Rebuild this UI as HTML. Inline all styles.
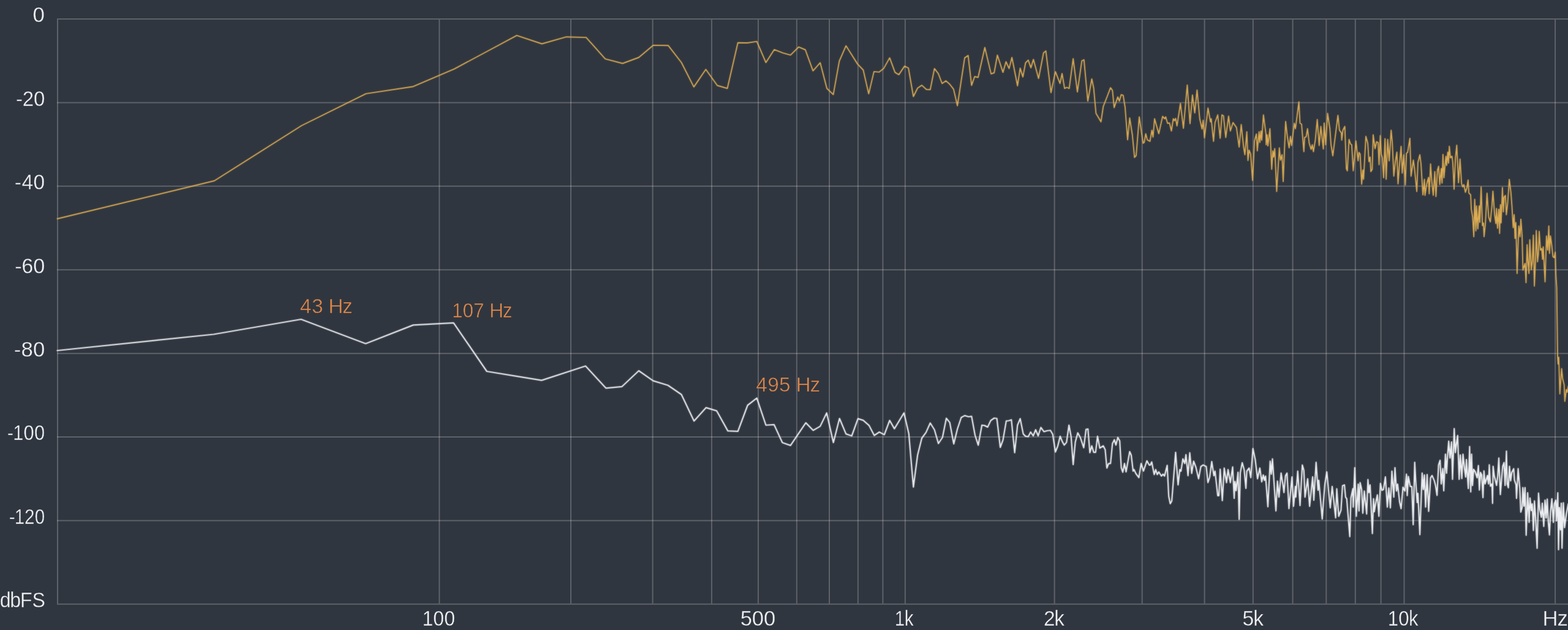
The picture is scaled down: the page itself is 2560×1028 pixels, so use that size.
<!DOCTYPE html>
<html lang="en">
<head>
<meta charset="utf-8">
<title>Spectrum analyzer</title>
<style>
html,body{margin:0;padding:0;background:#30363f;}
body{width:2560px;height:1028px;overflow:hidden;position:relative;font-family:"Liberation Sans",sans-serif;}
svg{position:absolute;left:0;top:0;display:block;}
text{font-family:"Liberation Sans",sans-serif;stroke:#30363f;stroke-width:0.45;white-space:pre;}
.ax{fill:#f0f2f5;font-size:34.8px;stroke-width:0.35;}
.pk{fill:#e0884a;font-size:33.4px;stroke-width:0.55;}
.g{stroke:rgba(255,255,255,0.225);stroke-width:2;fill:none;}
.cy{stroke:#dcac54;stroke-width:1.9;fill:none;stroke-linejoin:round;stroke-linecap:round;}
.cw{stroke:#eceef1;stroke-width:2.25;fill:none;stroke-linejoin:round;stroke-linecap:round;}
</style>
</head>
<body>
<svg width="2560" height="1028" viewBox="0 0 2560 1028">
<rect x="0" y="0" width="2560" height="1028" fill="#30363f"/>
<defs><filter id="soft" color-interpolation-filters="sRGB" x="-2%" y="-2%" width="104%" height="104%" filterUnits="objectBoundingBox"><feGaussianBlur stdDeviation="0.8" result="b"/><feComposite in="SourceGraphic" in2="b" operator="arithmetic" k1="0" k2="0.6" k3="0.4" k4="0"/></filter></defs>
<g class="g">
<line x1="93" y1="31.05" x2="2560" y2="31.05"/>
<line x1="93" y1="167.45" x2="2560" y2="167.45"/>
<line x1="93" y1="303.85" x2="2560" y2="303.85"/>
<line x1="93" y1="440.25" x2="2560" y2="440.25"/>
<line x1="93" y1="576.65" x2="2560" y2="576.65"/>
<line x1="93" y1="713.05" x2="2560" y2="713.05"/>
<line x1="93" y1="849.45" x2="2560" y2="849.45"/>
<line x1="93" y1="985.85" x2="2560" y2="985.85"/>
<line x1="94" y1="32.05" x2="94" y2="984.85"/>
<line x1="717.3" y1="32.05" x2="717.3" y2="984.85"/>
<line x1="932" y1="32.05" x2="932" y2="984.85"/>
<line x1="1065.6" y1="32.05" x2="1065.6" y2="984.85"/>
<line x1="1161.9" y1="32.05" x2="1161.9" y2="984.85"/>
<line x1="1237.9" y1="32.05" x2="1237.9" y2="984.85"/>
<line x1="1300.8" y1="32.05" x2="1300.8" y2="984.85"/>
<line x1="1354" y1="32.05" x2="1354" y2="984.85"/>
<line x1="1400.8" y1="32.05" x2="1400.8" y2="984.85"/>
<line x1="1441.4" y1="32.05" x2="1441.4" y2="984.85"/>
<line x1="1477.8" y1="32.05" x2="1477.8" y2="984.85"/>
<line x1="1721.6" y1="32.05" x2="1721.6" y2="984.85"/>
<line x1="1864.7" y1="32.05" x2="1864.7" y2="984.85"/>
<line x1="1966.6" y1="32.05" x2="1966.6" y2="984.85"/>
<line x1="2045.8" y1="32.05" x2="2045.8" y2="984.85"/>
<line x1="2110.6" y1="32.05" x2="2110.6" y2="984.85"/>
<line x1="2165.3" y1="32.05" x2="2165.3" y2="984.85"/>
<line x1="2212.8" y1="32.05" x2="2212.8" y2="984.85"/>
<line x1="2254.6" y1="32.05" x2="2254.6" y2="984.85"/>
<line x1="2292.5" y1="32.05" x2="2292.5" y2="984.85"/>
<line x1="2539.1" y1="32.05" x2="2539.1" y2="984.85"/>
</g>
<g filter="url(#soft)">
<polyline class="cy" points="93.5,357 350,295 492.3,205 597.6,152.9 674.7,141.2 742,112.3 795,84 843.7,57.8 884.7,71.5 924.7,60.2 957,61.1 988.2,96.1 1016.5,103.5 1042.9,93.75 1066.4,73.9 1090.9,74.2 1112.5,102.03 1132.81,141.88 1152.34,113.28 1171.09,139.53 1187.5,144.22 1204.69,69.69 1220.31,70 1235.62,67.66 1250.47,102.03 1264.06,80.94 1278.12,86.41 1290.62,89.84 1303.91,76.72 1314.84,81.25 1327.34,115.62 1339.06,102.34 1350,144.22 1360.47,154.38 1370.31,99.69 1381.25,74.69 1390.62,89.53 1400,104.38 1409.38,114.22 1418.28,153.12 1426.88,116.88 1435.16,117.66 1442.97,111.41 1452.5,94.38 1461.25,118.12 1467.5,121.88 1476.88,107.88 1483.12,111 1491.25,157.5 1498.12,143.75 1505,139.12 1512.5,146 1518.75,146.25 1525.62,111.88 1531.88,120 1538.12,136.25 1544.38,131.88 1550.62,137.5 1556.88,145.62 1563.12,172.5 1575,94.38 1580.62,90.62 1586.25,139.38 1591.25,125 1596.88,126.25 1607.88,77.5 1618.12,120.62 1623.12,118.75 1628.38,90 1637.5,118.12 1642.5,100.62 1647.5,111.88 1652.12,93.75 1661.25,140 1665.62,111.25 1670,125.62 1674.38,102.5 1678.75,98.12 1683.12,110.62 1687.25,96.88 1695.62,128.12 1703.75,86.25 1707.5,83.12 1715.88,151.25 1723.12,116.88 1730.62,136.25 1734,120 1738.12,144.38 1741.88,142.5 1745.62,144.38 1752.12,95.62 1759,150 1766.25,99.38 1769.75,97.5 1776,165 1782.5,128.75 1785.62,143.75 1789.38,185 1793.12,191.25 1797.5,198.75 1801.25,173.75 1808.12,156.25 1813.12,143.12 1816.25,147.5 1819,175.62 1825,158.12 1827.5,165 1830.62,154.38 1833.75,155.62 1836.88,175 1841,228.12 1844.38,192.5 1848.75,220 1852.25,256.88 1855,253.75 1860,190.62 1866.25,233.75 1868.12,232.5 1870.62,218.12 1873.12,228.12 1877.5,230.62 1880.62,212.5 1882.5,223.75 1885,193.75 1891.88,218.12 1898.12,190 1901.5,193.75 1903.12,190.62 1906.25,201.25 1909.38,200.62 1912.5,213.75 1915.62,193.75 1917.5,196.88 1919.38,193.12 1921.62,205.62 1927.25,168.75 1932.12,209.38 1938.38,138.75 1942.88,201.88 1946.88,155 1950.62,184.38 1954.38,146.88 1958.75,193.75 1962.5,210.62 1964.38,196.25 1966.5,225 1972.25,176.25 1976.25,198.75 1977.5,193.75 1981.25,230.62 1983.75,200 1988.12,187.5 1992.12,225.62 1995,187.5 1997.5,188.75 2001.25,224.38 2005.88,189.38 2008.75,213.75 2013.12,200 2018.75,208.12 2023.12,240 2026.5,203.12 2030.38,240 2032.5,252.5 2035.62,215 2037.5,261.88 2039.38,245 2041.88,251.25 2045,294.38 2048.12,230 2051.25,218.75 2052.75,246.25 2055.62,215 2056.88,232.5 2058.75,213.75 2060,228.75 2062.75,187.5 2066.88,218.75 2067.25,236.25 2068.75,220 2070,238.12 2073.38,210 2076.25,276.25 2078.12,246.25 2079.38,256.25 2081.25,242.5 2084.38,312.5 2088.75,241.25 2090.62,261.25 2093.12,252.5 2095,296.25 2099,198.12 2101.88,223.75 2104.75,241.25 2106.88,222.5 2108.75,237.5 2113.12,201.25 2115,210 2120.62,166.25 2122.5,201.25 2125,202.5 2128.75,247.5 2130,224.38 2132.5,223.12 2134.75,210 2137.5,233.75 2140.62,243.75 2142.5,236.25 2144.38,247.5 2147.5,228.12 2150.62,195 2153.75,237.5 2156.5,206.25 2158.75,227.5 2160.62,243.12 2161.88,200.62 2164.38,236.25 2167.5,185 2171.25,210 2173.12,236.25 2176,254.38 2184.38,188.12 2186.88,212.5 2190,216.88 2190.62,228.75 2192.5,212.5 2195.62,206.25 2198.12,275 2199.75,278.75 2202.5,227.5 2205,235 2206.88,236.25 2209.38,278.75 2213.75,230 2217.25,262.5 2218.75,248.75 2220.62,251.25 2223.12,300.62 2225,277.5 2226.25,292.5 2230,222.5 2233.12,233.75 2235,263.75 2236.88,256.25 2238.12,280 2240.38,276.25 2241.88,220 2245,242.5 2247.5,231.25 2250,232.5 2251.5,268.75 2253.5,221.25 2255,251.25 2256.88,257.5 2259,290 2261.25,226.25 2263.12,292.5 2265.62,227.5 2268.12,262.5 2271.25,212.5 2273.12,232.5 2275.62,287.5 2278.12,263.75 2280.62,248.12 2282.5,300 2285,267.5 2287.5,238.75 2289.38,282.5 2291.88,252.5 2294.38,301.88 2296.25,250 2298.12,248.75 2301.88,225.62 2303.75,287.5 2307.5,261.25 2309.38,275 2313.12,312.5 2315,265 2318.12,252.5 2320,267.5 2323.12,318.12 2325.62,292.5 2326.5,318.75 2329.38,300 2332.25,289.38 2333.38,316.25 2335.62,267.5 2337.5,295 2340,318.75 2342.5,280 2344.38,320.62 2346.88,277.5 2348.75,271.25 2350.62,301.25 2353.12,275 2354.38,298.75 2355.88,251.88 2357.5,290 2360.62,255 2361.88,270 2363.75,248.12 2365,266.25 2366.25,238.75 2368.12,257.5 2370.62,255 2371.88,265 2374,308.75 2376.25,257.5 2378.38,236.88 2381.25,298.12 2383.75,259.38 2386.25,300 2388.12,305 2390,301.25 2392.5,313.75 2395,306.25 2396.88,293.75 2398.12,315 2401.07,317.81 2402.14,341.34 2404.28,354.17 2406.2,386.26 2407.7,325.29 2409.63,376.63 2410.7,335.99 2412.83,373.42 2414.97,335.99 2416.04,362.73 2418.18,304.97 2420.32,368.07 2421.93,363.8 2422.99,386.26 2425.13,364.87 2427.81,315.13 2430.48,354.17 2433.16,362.19 2435.83,335.99 2437.43,311.93 2440.11,349.89 2442.25,364.87 2443.32,340.27 2444.92,372.35 2447.06,341.34 2448.34,380.91 2449.73,333.85 2450.8,363.8 2452.94,306.04 2454.55,345.61 2455.61,322.09 2457.75,318.88 2459.36,350.43 2461.5,331.71 2464.17,292.67 2466.84,314.6 2468.45,335.99 2470.5,371.34 2472.13,350.22 2473.49,389.05 2474.86,363.16 2476.9,446.27 2479.62,368.61 2481.67,386.32 2483.03,357.71 2485.07,384.96 2486.44,440.82 2488.48,434.01 2489.84,429.92 2491.48,461.25 2493.25,399.26 2494.61,427.19 2496.25,446.27 2497.61,391.09 2500.06,440.14 2501.69,427.19 2503.47,383.6 2505.1,466.7 2506.87,427.19 2508.23,376.1 2510.28,427.19 2511.64,414.93 2513,377.47 2515.05,408.12 2517.09,405.4 2518.45,423.11 2519.54,402.67 2522.54,459.89 2524.86,384.96 2526.9,408.12 2528.67,368.61 2529.76,413.57 2531.4,384.96 2533.44,399.95 2535.48,419.02 2537.53,420.38 2539.16,411.53 2540.25,448.99 2541.6,470 2543,581 2543.8,594 2544.9,583 2546.7,642.8 2549.6,601.4 2551.3,618 2553.7,627.7 2554.8,655 2557.2,635.8 2558.6,640 2560.5,630"/>
<polyline class="cw" points="93.5,572 349,545.5 491.5,521 597,560.7 674.7,530.4 740.5,526.9 794.8,606 843,613.8 884.3,620.6 956,597.2 989.2,633.3 1015.5,630.8 1042.9,605 1066.4,621.4 1090.6,628.75 1112.5,643.75 1133.12,687.03 1152.66,665.16 1170,670.31 1188.28,703.12 1204.69,703.91 1220.62,661.25 1235.62,649.53 1250.47,693.75 1263.75,692.81 1277.34,722.19 1290.62,726.88 1303.12,708.44 1315.62,689.84 1327.66,702.19 1339.06,695.62 1349.69,673.75 1360.62,722.19 1370.62,682.81 1381.25,708.12 1390.62,711.25 1400.78,683.12 1409.38,685.94 1418.75,694.06 1427.34,710.47 1435.62,705 1443.75,709.38 1452.5,686 1460.25,699.62 1475.88,673.75 1483.75,707.5 1491.25,794.75 1498.12,742.5 1505,715 1511.88,705.62 1518.75,690.25 1525.62,701.25 1532.12,723.75 1538.75,713.75 1545,682.5 1550.62,689.38 1557.12,724.38 1563.12,700 1569.38,681.25 1575,678.12 1581.25,680 1586.25,679.38 1591.88,710 1597.12,726.5 1603.12,693.75 1607.5,694.38 1612.5,696.88 1617.5,686.25 1623.12,682.25 1627.5,682.75 1633.12,730 1637.5,718.12 1642.88,686.88 1646.88,686.5 1651.25,685 1656.62,738.75 1661.25,693.75 1665.62,683.12 1670.62,708.12 1674.38,711.88 1678.75,712.5 1682.75,705 1686.88,711.25 1690.88,701.25 1695,711.25 1699.38,697.5 1704.38,704.38 1710,702.75 1715,702.25 1718.75,708.75 1723.12,737.5 1726.88,728.12 1730.88,711.88 1734.38,720.62 1737.5,726.25 1741.25,721.88 1745.25,693.75 1748.75,712.5 1752.12,758.12 1755.62,721.25 1759.62,706.25 1763.75,713.75 1769.38,730.62 1773.12,700.62 1776.25,700 1779.38,738.75 1782.5,727.5 1785.62,738.12 1788.75,738.12 1791.88,711.88 1795.62,731.25 1801.25,727.5 1804.38,733.75 1807.12,763.75 1810,756.25 1813.12,756.25 1816.25,723.75 1819.38,717.5 1821.88,726.25 1825,713.75 1828.12,719.38 1830.62,763.12 1833.12,770.62 1835.88,756.25 1838.5,770 1844.38,736.88 1846.88,742.5 1850,768.75 1851.5,766.25 1854.38,772.5 1859.38,779.38 1863.12,756.25 1866.88,768.75 1872.5,751.88 1876.25,758.75 1878.12,758.75 1880.38,753.75 1884.38,774.38 1886.88,766.25 1889.38,774.38 1891.88,770 1896.25,776.88 1898.75,773.75 1901.25,776.88 1905.62,759.38 1908.12,810 1910.62,821.88 1913.12,817.5 1919.38,738.12 1923.38,791.25 1926.25,766.25 1928.12,768.75 1931.25,748.75 1934.38,756.25 1936.25,741.88 1939.62,776.25 1942.5,738.75 1945.62,772.5 1948.75,752.5 1952.5,762.5 1956.88,781.25 1960.62,761.25 1964.38,758.75 1969.38,761.25 1972.12,787.5 1975,778.75 1978.38,753.12 1981.88,776.25 1983.75,768.75 1988.12,808.75 1990,808.75 1992.12,765.62 1995.62,816.88 1998.75,763.75 2002.5,787.5 2005,766.25 2008.75,787.5 2012.5,761.88 2015,813.12 2016.25,785.62 2018.12,800.62 2021.25,770.62 2023.12,847.5 2025,771.25 2028.12,755 2031.25,766.25 2034.12,796.88 2035.62,768.75 2039.38,763.75 2042.12,779.38 2045.62,731.88 2049.38,750 2053.12,781.25 2055,772.5 2056.88,763.75 2060,786.25 2062.5,775 2064.38,783.75 2066.25,776.88 2070,826.88 2073.75,752.5 2075.62,773.75 2077.5,748.75 2083.12,833.75 2085.62,785 2088.12,811.25 2091.62,771.88 2095,793.75 2096.25,803.75 2098.75,776.25 2101.25,771.88 2104.38,830 2109.38,778.12 2111.88,826.25 2115,793.75 2115.62,811.25 2118.75,768.75 2122.5,825 2126.25,758.75 2128.75,767.5 2130.62,811.25 2135,781.25 2138.12,826.25 2143.12,778.12 2145,816.25 2148.75,754.38 2151.88,800 2153.12,783.75 2156.88,826.25 2158.75,846.88 2160.62,820 2163.12,789.38 2166.25,770 2168.75,797.5 2171.88,828.75 2175,793.75 2177.5,816.25 2179.38,833.75 2180.62,845 2182.5,797.5 2185.62,842.5 2189.38,832.5 2191.88,792.5 2195,791.25 2196.88,811.25 2198.75,813.75 2201.25,845 2203.75,875.62 2205.62,812.5 2208.75,797.5 2209.38,827.5 2211.88,763.12 2214.38,842.5 2217.5,790 2218.75,833.75 2220.62,787.5 2223.12,798.75 2225,837.5 2227.5,801.25 2231.25,838.75 2233.38,782.5 2235,803.75 2236.88,791.25 2240.62,870.62 2242.5,813.75 2243.75,835 2246.88,816.25 2248.75,807.5 2251.25,842.5 2253.75,788.75 2256.25,800 2258.75,798.75 2261.88,778.12 2265,827.5 2267.5,796.25 2270,828.75 2272.5,768.75 2275.62,811.25 2277.5,763.12 2280,801.25 2281.88,790 2285,818.75 2287.5,830 2290.62,795 2293.75,801.25 2296.25,773.75 2297.5,808.75 2299.38,777.5 2302.5,793.75 2305,793.75 2307.25,856.25 2309.75,754.38 2311.25,782.5 2313.75,820 2315,805 2318.12,872.5 2321.88,771.88 2323.75,798.75 2325.62,775 2327.5,827.5 2330,774.38 2332.49,834.46 2335.6,779.66 2338.09,775.93 2341.83,784.65 2343.7,792.12 2346.19,808.31 2348.68,758.49 2351.17,751.02 2353.04,789.63 2355.53,764.72 2357.15,800.83 2359.89,741.06 2361.76,772.19 2363.62,739.81 2365.24,719.89 2367.36,747.29 2369.85,721.13 2371.47,782.15 2374.21,699.34 2376.08,738.57 2377.95,723.62 2379.81,710.55 2382.3,782.15 2384.17,742.3 2386.66,780.91 2388.53,741.06 2391.02,764.72 2392.89,778.42 2394.13,749.78 2397.25,797.1 2399.36,728.61 2401.23,802.7 2402.6,741.06 2404.1,792.12 2405.97,765.97 2408.46,769.7 2411.57,779.66 2413.69,759.74 2415.31,799.59 2417.17,770.95 2419.04,774.68 2421.16,812.04 2422.78,768.46 2424.65,789.63 2428.38,775.93 2430.25,789.63 2431.49,758.49 2433.36,793.36 2435.85,789.63 2436.85,821.38 2437.72,760.98 2439.59,775.93 2443.33,792.12 2445.19,777.17 2447.06,747.29 2449.55,807.06 2453.29,760.98 2455.53,754.76 2457.27,792.12 2459.51,736.08 2460.76,789.63 2462.63,795.85 2464.5,760.98 2466.36,784.65 2468.23,770.95 2471.34,764.72 2472.59,783.4 2475.08,790.87 2475.95,813.29 2478.57,764.72 2481.31,797.1 2482.93,835.7 2485.08,828.25 2486.28,795.68 2488.09,825.84 2489.9,795.68 2491.71,873.49 2494.13,804.13 2496.54,852.38 2497.99,812.57 2500.16,833.08 2501.6,822.22 2503.53,865.65 2505.22,817.39 2506.79,840.31 2509.57,894.6 2511.86,804.73 2514.03,831.87 2516.44,843.93 2518.01,821.01 2520.42,859.01 2522.47,816.19 2524.28,845.14 2526.09,814.38 2527.9,852.38 2529.71,872.88 2531.52,834.28 2533.69,813.78 2536.1,852.38 2537.79,822.22 2539.96,816.19 2541.17,849.96 2543.34,804.13 2544.55,897.01 2546,828.25 2547.8,864.44 2549.01,821.01 2550.22,894.6 2552.39,820.41 2554.44,860.82 2557.45,837.9 2560.47,822.22"/>
</g>
<text class="ax" transform="translate(54.70 36.35) scale(1.0000 1)" x="-1.08" y="0">0</text>
<text class="ax" transform="translate(27.50 172.75) scale(0.9491 1)" x="-1.55 9.70 28.89" y="0">-20</text>
<text class="ax" transform="translate(25.20 309.15) scale(0.9656 1)" x="-1.55 10.60 30.47" y="0">-40</text>
<text class="ax" transform="translate(25.80 445.55) scale(0.9857 1)" x="-1.55 9.57 28.88" y="0">-60</text>
<text class="ax" transform="translate(24.30 581.95) scale(1.0000 1)" x="-1.55 10.10 29.71" y="0">-80</text>
<text class="ax" transform="translate(13.20 718.35) scale(0.8878 1)" x="-1.55 9.00 28.45 48.24" y="0">-100</text>
<text class="ax" transform="translate(16.00 854.75) scale(0.8502 1)" x="-1.55 9.14 28.34 47.87" y="0">-120</text>
<text class="ax" transform="translate(1.10 990.80) scale(0.9218 1)" x="-1.46 16.44 34.52 55.84" y="0">dbFS</text>
<text class="ax" transform="translate(691.90 1021.10) scale(0.9177 1)" x="-2.65 16.70 36.38" y="0">100</text>
<text class="ax" transform="translate(1210.00 1021.10) scale(0.9906 1)" x="-1.39 17.97 37.43" y="0">500</text>
<text class="ax" transform="translate(1463.10 1021.10) scale(0.8502 1)" x="-2.65 15.95" y="0">1k</text>
<text class="ax" transform="translate(1705.60 1021.10) scale(0.9593 1)" x="-1.75 16.43" y="0">2k</text>
<text class="ax" transform="translate(2029.75 1021.10) scale(0.9666 1)" x="-1.39 17.05" y="0">5k</text>
<text class="ax" transform="translate(2268.10 1021.10) scale(0.8963 1)" x="-2.65 16.77 35.54" y="0">10k</text>
<text class="ax" transform="translate(2521.30 1021.10) scale(1.0000 1)" x="-2.85 21.13" y="0">Hz</text>
<text class="pk" transform="translate(490.60 511.10) scale(1.0000 1)" x="-0.77 18.38 38.32 45.60 68.46" y="0">43 Hz</text>
<text class="pk" transform="translate(740.50 517.50) scale(0.9395 1)" x="-2.54 16.08 34.61 54.49 62.42 85.44" y="0">107 Hz</text>
<text class="pk" transform="translate(1235.10 638.90) scale(1.0000 1)" x="-0.77 18.25 36.89 57.05 64.33 87.36" y="0">495 Hz</text>
</svg>
</body>
</html>
